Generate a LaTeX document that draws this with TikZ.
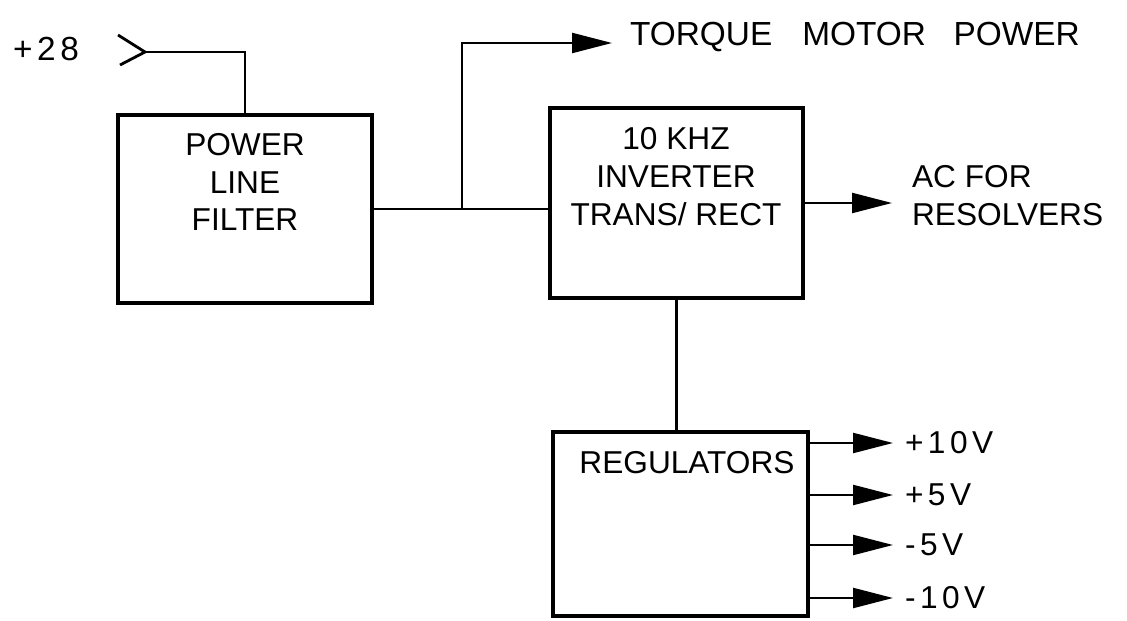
\documentclass[tikz,border=0pt]{standalone}
\usepackage{fontspec}
\setmainfont{Liberation Sans}
\newfontfamily\spacedfont[LetterSpace=14]{Liberation Sans}
\usetikzlibrary{positioning,arrows.meta}

\begin{document}
\begin{tikzpicture}[
  blk/.style={draw, line width=2.4pt, minimum width=5.08cm, minimum height=3.76cm, inner sep=0pt},
  txt/.style={align=center, inner sep=1pt, font=\fontsize{18}{21.5}\selectfont},
  volt/.style={anchor=west, inner sep=1pt, font=\spacedfont\fontsize{18}{21.5}\selectfont},
  wire/.style={line width=1.3pt},
  arr/.style={line width=1.3pt, -{Triangle[length=8mm,width=4mm]}}]
\useasboundingbox (0,0) rectangle (22.54,-12.42);
\node[blk] (filt) at (4.90,-4.18) {};
\node[blk, minimum width=5.06cm, minimum height=3.80cm] (inv) at (13.53,-4.06) {};
\node[blk, minimum width=5.10cm, minimum height=3.68cm] (reg) at (13.61,-10.48) {};
\node[txt] (filtT) at (4.90,-3.64) {POWER\\LINE\\FILTER};
\node[txt] (invT) at (13.52,-3.53) {10 KHZ\\INVERTER\\TRANS/ RECT};
\node[txt] (regT) at (13.74,-9.26) {REGULATORS};
\node[txt, font=\spacedfont\fontsize{19}{22}\selectfont] (p28) at (0.92,-0.98) {+28};
\coordinate (in28) at (2.90,-1.04);
\draw[wire, line width=1.6pt] (2.36,-0.70) -- (in28) -- (2.40,-1.30);
\draw[wire] (in28) -| (filt.north);
\draw[wire] (filt.east) -- (filt.east -| inv.west);
\coordinate (br) at (9.24,-4.18);
\coordinate (tqend) at (12.24,-0.86);
\draw[arr] (br) |- (tqend);
\node[txt, anchor=west, font=\fontsize{19}{22}\selectfont] (tq) at (12.56,-0.74) {TORQUE\hspace{0.6cm}MOTOR\hspace{0.55cm}POWER};
\coordinate (acend) at (17.84,-4.06);
\draw[arr] (inv.east) -- (acend);
\node[txt, anchor=west, align=left] (ac) at (18.20,-3.91) {AC FOR\\RESOLVERS};
\draw[wire] (inv.south) -- (inv.south |- reg.north);
\foreach \i/\y/\v in {1/-8.86/+10V, 2/-9.90/+5V, 3/-10.90/-5V, 4/-11.96/-10V} {
  \node[volt] (v\i) at (18.06,\y) {\v};
  \draw[arr] (reg.east |- v\i.west) -- ([xshift=-0.2cm]v\i.west);
}
\end{tikzpicture}
\end{document}
